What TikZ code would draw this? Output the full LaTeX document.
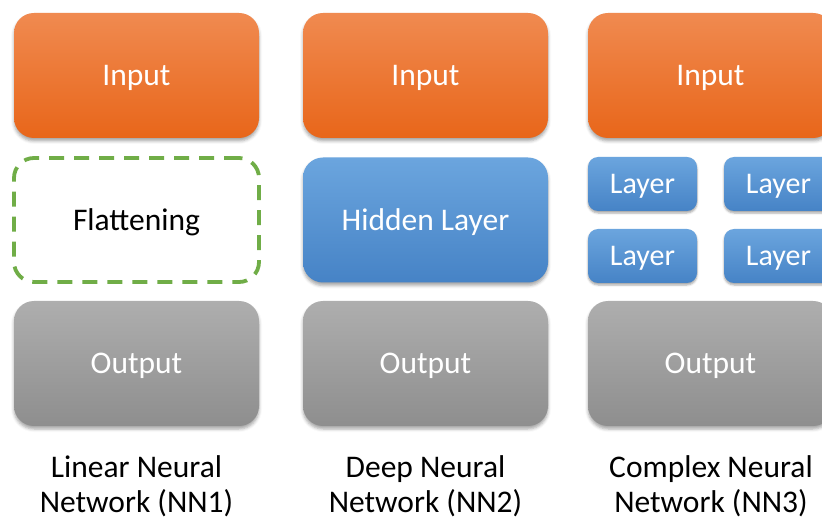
\documentclass[tikz,border=0pt]{standalone}
\usepackage{fontspec}
\setmainfont{Carlito}
\usetikzlibrary{shadows.blur}
\definecolor{orTop}{HTML}{F08A50}
\definecolor{orBot}{HTML}{E8661A}
\definecolor{blTop}{HTML}{6BA5DE}
\definecolor{blBot}{HTML}{4683C6}
\definecolor{grTop}{HTML}{AEAEAE}
\definecolor{grBot}{HTML}{8E8E8E}
\definecolor{flatgreen}{HTML}{70AD47}
\tikzset{
  bigbox/.style={rounded corners=20pt, minimum width=245pt, minimum height=125pt, inner sep=0pt,
    font=\fontsize{31.5}{36}\selectfont, text=white, text height=21pt, text depth=0pt,
    blur shadow={shadow xshift=0pt, shadow yshift=-3pt, shadow blur radius=3pt, shadow opacity=35}},
  inbox/.style={bigbox, top color=orTop, bottom color=orBot},
  outbox/.style={bigbox, top color=grTop, bottom color=grBot},
  hidbox/.style={bigbox, top color=blTop, bottom color=blBot},
  layerbox/.style={rounded corners=10pt, minimum width=109pt, minimum height=54pt, inner sep=0pt,
    font=\fontsize{30}{36}\selectfont, text=white, text height=20pt, text depth=0pt,
    top color=blTop, bottom color=blBot,
    blur shadow={shadow xshift=0pt, shadow yshift=-2pt, shadow blur radius=2pt, shadow opacity=35}},
  flatbox/.style={rounded corners=20pt, minimum width=245pt, minimum height=124pt, inner sep=0pt,
    draw=flatgreen, line width=3.8pt, dash pattern=on 15pt off 10pt,
    font=\fontsize{31.5}{36}\selectfont, text=black, text height=21pt, text depth=0pt},
  caption/.style={align=center, font=\fontsize{31.5}{35.4}\selectfont, text=black, inner sep=0pt}
}
\begin{document}
\begin{tikzpicture}[x=1pt, y=-1pt]
\useasboundingbox (0,0) rectangle (822,518);
\clip (0,0) rectangle (822,518);
% column 1
\node[inbox]  (in1)  at (136.5,75.5) {Input};
\node[flatbox] (flat) at (136.5,220) {Flattening};
\node[outbox] (out1) at (136.5,363.5) {Output};
\node[caption] (cap1) at (136.5,486.5) {Linear Neural\\Network (NN1)};
% column 2
\node[inbox]  (in2)  at (425.5,75.5) {Input};
\node[hidbox] (hid)  at (425.5,220) {Hidden Layer};
\node[outbox] (out2) at (425.5,363.5) {Output};
\node[caption] (cap2) at (425.5,486.5) {Deep Neural\\Network (NN2)};
% column 3
\node[inbox]  (in3)  at (710.5,75.5) {Input};
\node[layerbox] (l1) at (642.5,184) {Layer};
\node[layerbox] (l2) at (778.5,184) {Layer};
\node[layerbox] (l3) at (642.5,256) {Layer};
\node[layerbox] (l4) at (778.5,256) {Layer};
\node[outbox] (out3) at (710.5,363.5) {Output};
\node[caption] (cap3) at (711,486.5) {Complex Neural\\Network (NN3)};
\end{tikzpicture}
\end{document}
